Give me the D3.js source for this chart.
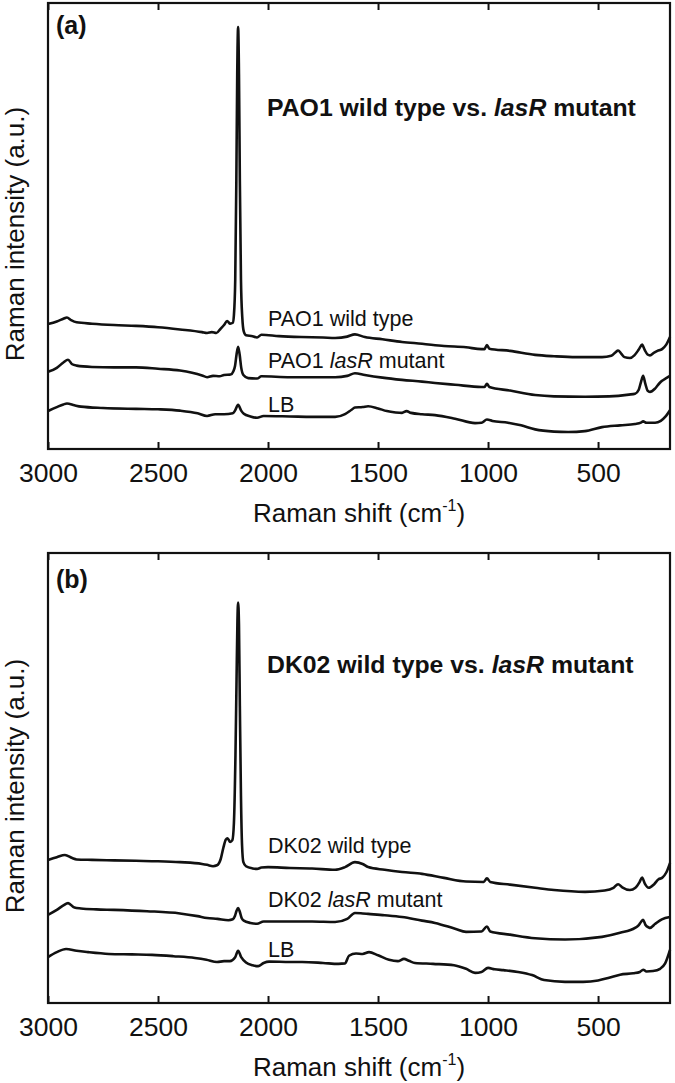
<!DOCTYPE html>
<html>
<head>
<meta charset="utf-8">
<script src="https://cdn.jsdelivr.net/npm/d3@7"></script>
<style>
  html, body { margin: 0; padding: 0; background: #fff; }
  svg { display: block; }
  text { font-family: "Liberation Sans", Arial, sans-serif; fill: #111; }
</style>
</head>
<body>
<svg id="chart" width="675" height="1083"></svg>
<script>
// ---------- data (wavenumber cm-1, intensity a.u. 0-100) ----------
const xTicks = [3000, 2500, 2000, 1500, 1000, 500];
const xDomain = [3000, 173];
const panelLetters = ["(a)", "(b)"];
const panelStrains = ["PAO1", "DK02"];

const paoWildType = [
  [3000,28.0],[2960,28.6],[2930,29.2],[2914,29.5],[2895,28.9],[2870,28.4],[2800,28.1],[2700,27.8],[2600,27.6],
  [2500,27.3],[2400,26.8],[2300,26.2],[2277,26.0],[2255,26.2],[2235,26.0],[2215,27.0],[2200,27.8],[2186,28.7],
  [2172,28.1],[2160,28.3],[2155,30.0],[2149,38],[2144,60],[2140,84],[2136,94.6],[2132,84],[2128,60],
  [2123,38],[2117,29.5],[2110,26.3],[2100,25.5],[2070,25.3],[2050,25.0],[2030,25.6],[1950,25.3],[1850,25.1],
  [1750,25.0],[1695,24.9],[1640,25.2],[1605,25.7],[1560,25.1],[1480,24.6],[1391,24.0],[1300,23.6],[1200,23.1],
  [1100,22.8],[1030,22.4],[1016,22.4],[1005,23.3],[994,22.5],[900,22.0],[786,21.1],[700,20.8],[600,20.6],
  [482,20.6],[440,20.9],[420,21.7],[409,22.1],[395,21.4],[380,20.6],[355,20.4],[335,21.0],[315,22.3],
  [300,23.4],[288,22.2],[275,21.2],[264,21.0],[245,21.6],[230,22.0],[209,22.4],[190,23.4],[173,25.1]
];
const paoMutant = [
  [3000,17.3],[2960,18.2],[2930,19.4],[2909,20.0],[2890,19.0],[2870,18.7],[2800,18.4],[2700,18.3],[2600,18.3],
  [2500,18.0],[2400,17.6],[2300,16.5],[2277,16.1],[2250,16.4],[2220,16.3],[2200,16.6],[2170,16.7],[2158,17.4],
  [2150,18.6],[2143,21.2],[2136,22.9],[2129,21.2],[2122,18.3],[2112,16.6],[2090,15.9],[2050,15.8],[2030,16.3],
  [1900,16.1],[1800,16.1],[1695,16.1],[1640,16.4],[1605,17.0],[1560,16.6],[1480,16.0],[1391,15.5],[1300,15.1],
  [1241,14.8],[1150,14.4],[1030,13.9],[1016,13.9],[1005,14.6],[994,13.9],[900,13.1],[786,12.1],[700,11.8],
  [559,11.7],[450,11.8],[360,12.2],[332,12.4],[315,13.3],[305,15.0],[295,16.4],[285,14.6],[275,13.1],
  [264,12.8],[240,13.6],[220,14.8],[209,15.3],[190,15.9],[173,16.4]
];
const paoLB = [
  [3000,8.5],[2960,9.4],[2930,10.0],[2914,10.2],[2880,9.8],[2850,9.5],[2750,9.2],[2600,9.0],[2500,8.9],
  [2400,8.6],[2320,8.0],[2277,7.4],[2240,7.8],[2200,7.8],[2160,8.0],[2150,8.6],[2136,9.9],[2122,8.6],
  [2110,7.9],[2080,7.3],[2050,7.0],[2020,7.4],[1900,7.3],[1800,7.2],[1695,7.2],[1650,7.8],[1620,8.8],
  [1605,9.3],[1570,9.4],[1545,9.6],[1500,9.1],[1460,8.5],[1420,8.2],[1391,8.1],[1370,8.5],[1350,8.1],
  [1300,7.8],[1241,7.6],[1150,6.8],[1059,5.8],[1030,5.9],[1005,6.6],[980,6.3],[909,5.9],[850,5.3],
  [786,4.4],[700,3.9],[636,3.8],[560,4.0],[482,4.9],[400,5.3],[332,5.6],[305,5.9],[295,6.2],[280,5.9],
  [241,5.9],[215,6.3],[195,7.2],[173,8.7]
];

const dkWildType = [
  [3000,31.8],[2960,32.4],[2923,32.9],[2890,32.2],[2870,31.9],[2800,31.8],[2700,31.7],[2600,31.6],[2500,31.5],
  [2400,31.3],[2300,30.9],[2277,30.7],[2250,30.4],[2232,30.6],[2215,32.0],[2203,34.5],[2192,36.3],[2184,36.6],
  [2172,35.8],[2162,36.2],[2155,40],[2148,55],[2143,72],[2139,85],[2136,89.0],[2132,84],[2128,66],
  [2123,46],[2118,35],[2112,31.3],[2100,30.4],[2070,29.9],[2050,29.8],[2030,30.1],[2000,30.2],[1900,30.0],
  [1800,29.9],[1695,29.6],[1650,30.2],[1605,31.3],[1570,30.9],[1545,30.2],[1470,29.6],[1391,29.1],[1300,28.7],
  [1200,27.8],[1100,27.0],[1020,26.9],[1005,27.7],[990,26.9],[900,26.3],[786,25.6],[700,25.1],[559,24.7],
  [470,25.0],[430,25.6],[409,26.4],[390,25.7],[355,25.1],[330,25.6],[312,26.8],[300,27.9],[288,26.6],
  [270,25.6],[245,26.4],[225,27.5],[209,27.8],[190,29.0],[173,31.1]
];
const dkMutant = [
  [3000,19.6],[2960,20.7],[2930,21.7],[2909,22.2],[2880,21.2],[2850,21.0],[2780,20.8],[2700,20.7],[2550,20.4],
  [2400,19.9],[2320,19.3],[2277,18.9],[2230,18.7],[2180,18.4],[2160,18.6],[2150,19.4],[2143,20.5],[2136,21.1],
  [2129,20.4],[2120,18.9],[2110,18.3],[2080,17.8],[2050,17.6],[2020,18.1],[1900,18.1],[1800,18.1],[1695,18.0],
  [1640,18.7],[1605,20.0],[1570,19.9],[1545,19.8],[1470,19.5],[1391,19.1],[1300,18.3],[1241,17.8],[1150,16.5],
  [1100,15.8],[1030,15.9],[1005,17.0],[990,15.9],[900,15.2],[786,14.4],[650,14.1],[482,14.7],[400,15.6],
  [332,16.7],[315,17.3],[305,18.0],[295,18.5],[285,17.4],[270,16.8],[264,16.7],[240,17.6],[210,18.6],[173,19.1]
];
const dkLB = [
  [3000,10.2],[2960,11.3],[2918,12.0],[2870,11.6],[2818,11.3],[2723,10.9],[2620,10.8],[2527,10.7],[2430,10.4],
  [2332,10.0],[2280,9.6],[2232,9.1],[2200,9.3],[2173,9.3],[2150,10.1],[2136,11.6],[2122,10.2],[2100,9.0],
  [2070,8.4],[2045,8.2],[2020,8.9],[1995,9.2],[1900,9.1],[1845,9.1],[1750,8.9],[1680,8.7],[1650,8.8],
  [1632,10.5],[1600,11.0],[1570,10.9],[1541,11.3],[1500,10.6],[1450,9.6],[1410,9.3],[1382,9.8],[1360,9.4],
  [1332,8.9],[1250,8.7],[1155,8.4],[1100,7.6],[1059,6.7],[1030,6.9],[1000,7.8],[970,7.5],[930,7.3],
  [864,6.9],[800,6.2],[745,5.1],[650,4.7],[568,4.7],[500,5.0],[450,5.6],[400,6.3],[340,6.6],[310,6.9],
  [295,7.4],[280,7.0],[250,7.1],[218,7.6],[195,8.8],[173,11.8]
];

// ---------- layout ----------
const left = 48, right = 670;
const panels = [
  { top: 3,   bottom: 449, letter: panelLetters[0], strain: panelStrains[0],
    series: [paoWildType, paoMutant, paoLB],
    labels: [
      { y: 326, parts: [["PAO1 wild type", false]] },
      { y: 368, parts: [["PAO1 ", false], ["lasR", true], [" mutant", false]] },
      { y: 412, parts: [["LB", false]] }
    ],
    titleY: 116, letterY: 34 },
  { top: 553, bottom: 1003, letter: panelLetters[1], strain: panelStrains[1],
    series: [dkWildType, dkMutant, dkLB],
    labels: [
      { y: 853, parts: [["DK02 wild type", false]] },
      { y: 907, parts: [["DK02 ", false], ["lasR", true], [" mutant", false]] },
      { y: 957, parts: [["LB", false]] }
    ],
    titleY: 673, letterY: 588 }
];

const svg = d3.select("#chart");
const x = d3.scaleLinear().domain(xDomain).range([left, right]);

panels.forEach(p => {
  const y = d3.scaleLinear().domain([0, 100]).range([p.bottom, p.top]);
  const g = svg.append("g");

  // curves
  const line = d3.line()
    .x(d => x(d[0]))
    .y(d => y(d[1]))
    .curve(d3.curveMonotoneX);
  p.series.forEach(s => {
    g.append("path")
      .datum(s)
      .attr("d", line)
      .attr("fill", "none")
      .attr("stroke", "#111")
      .attr("stroke-width", 2.6)
      .attr("stroke-linejoin", "round");
  });

  // axes
  const bottomAxis = d3.axisBottom(x).tickValues(xTicks).tickSize(-7).tickPadding(14)
    .tickFormat(d3.format("d"));
  const gx = g.append("g").attr("transform", `translate(0,${p.bottom})`).call(bottomAxis);
  gx.select(".domain").remove();
  gx.selectAll(".tick line").attr("stroke", "#111").attr("stroke-width", 2);
  gx.selectAll(".tick text")
    .attr("font-size", 26.5)
    .attr("font-family", "Liberation Sans, Arial, sans-serif")
    .attr("fill", "#111");

  const topAxis = d3.axisTop(x).tickValues(xTicks).tickSize(-7).tickFormat("");
  const gt = g.append("g").attr("transform", `translate(0,${p.top})`).call(topAxis);
  gt.select(".domain").remove();
  gt.selectAll(".tick line").attr("stroke", "#111").attr("stroke-width", 2);

  // frame
  g.append("rect")
    .attr("x", left).attr("y", p.top)
    .attr("width", right - left).attr("height", p.bottom - p.top)
    .attr("fill", "none").attr("stroke", "#111").attr("stroke-width", 2.2);

  // panel letter
  g.append("text").attr("x", 56).attr("y", p.letterY)
    .attr("font-size", 25).attr("font-weight", "bold").text(p.letter);

  // title
  const t = g.append("text").attr("x", 267).attr("y", p.titleY)
    .attr("font-size", 24.8).attr("font-weight", "bold");
  t.append("tspan").text(p.strain + " wild type vs. ");
  t.append("tspan").attr("font-style", "italic").text("lasR");
  t.append("tspan").text(" mutant");

  // curve labels
  p.labels.forEach(l => {
    const tx = g.append("text").attr("x", 268).attr("y", l.y).attr("font-size", 21.5);
    l.parts.forEach(([s, it]) => {
      const ts = tx.append("tspan").text(s);
      if (it) ts.attr("font-style", "italic");
    });
  });

  // y label
  g.append("text")
    .attr("transform", `translate(24,${(p.top + p.bottom) / 2 + 8}) rotate(-90)`)
    .attr("text-anchor", "middle")
    .attr("font-size", 26)
    .text("Raman intensity (a.u.)");

  // x label
  const xl = g.append("text")
    .attr("x", (left + right) / 2)
    .attr("y", p.bottom + 73)
    .attr("text-anchor", "middle")
    .attr("font-size", 26);
  xl.append("tspan").text("Raman shift (cm");
  xl.append("tspan").attr("font-size", 16).attr("dy", -11).text("-1");
  xl.append("tspan").attr("dy", 11).text(")");
});
</script>
</body>
</html>
